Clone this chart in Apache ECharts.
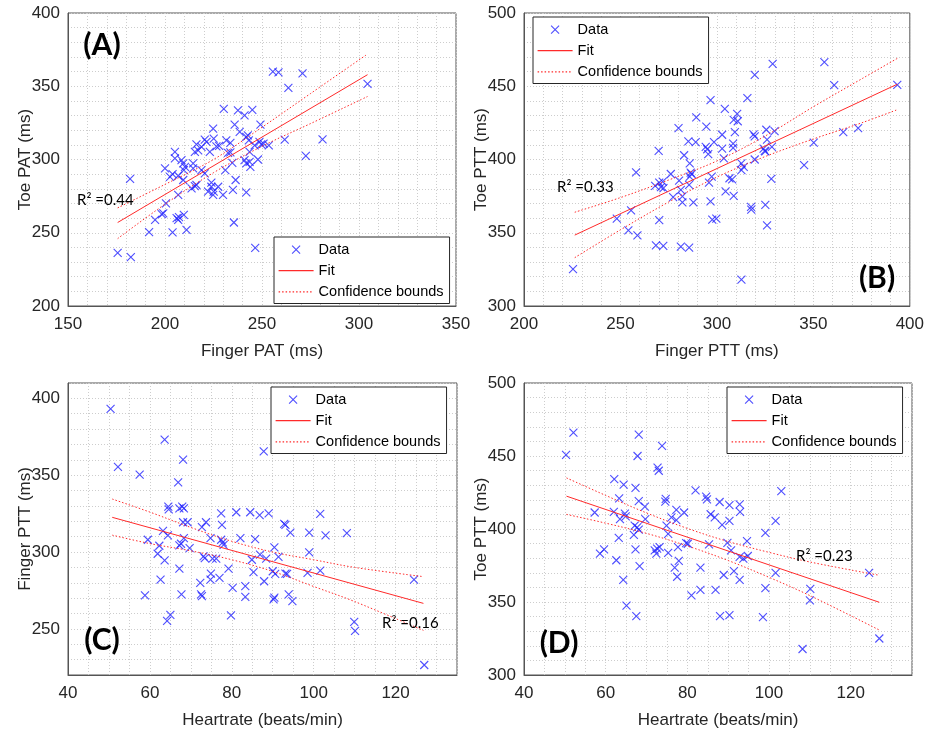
<!DOCTYPE html>
<html>
<head>
<meta charset="utf-8">
<script src="https://cdn.jsdelivr.net/npm/echarts@6.0.0/dist/echarts.min.js"></script>
<style>
  html, body { margin: 0; padding: 0; background: #fff; }
  #chart { width: 927px; height: 730px; }
</style>
</head>
<body>
<div id="chart"></div>
<script>
// (A) Finger PAT vs Toe PAT
var dataA = [[175.6,236.2],[182.4,233.3],[182.0,286.7],[191.8,250.5],[199.1,263.3],[198.3,262.7],[200.5,270.1],[203.9,250.2],[194.9,258.8],[206.8,258.8],[206.0,260.0],[207.2,260.6],[209.7,262.2],[211.1,252.0],[206.8,275.8],[200.0,293.9],[202.6,288.2],[203.9,290.0],[205.1,300.7],[205.1,305.2],[206.8,288.9],[209.4,286.0],[209.7,292.8],[208.5,299.5],[209.4,297.3],[210.3,295.0],[213.7,280.3],[215.4,281.9],[216.2,282.6],[214.5,293.9],[214.5,297.3],[215.4,305.2],[216.2,310.4],[217.1,306.3],[218.8,292.8],[220.5,290.5],[218.8,308.6],[220.5,313.6],[221.4,312.0],[223.1,305.2],[224.8,321.0],[225.1,314.3],[226.5,309.0],[227.9,309.3],[222.2,278.0],[223.9,281.4],[225.1,278.0],[223.9,284.2],[227.4,281.4],[224.8,275.8],[229.9,275.8],[230.3,334.6],[231.1,292.8],[232.5,304.5],[233.7,304.8],[233.7,311.3],[234.7,297.7],[235.0,279.2],[235.9,323.8],[236.4,286.0],[237.6,333.5],[238.5,318.8],[241.0,330.1],[241.9,277.6],[242.7,316.5],[243.2,313.1],[243.6,298.4],[244.0,295.0],[243.6,305.2],[245.0,333.9],[246.2,309.7],[247.9,300.0],[248.7,312.0],[249.2,323.8],[249.6,310.4],[250.8,310.9],[253.5,309.7],[246.5,239.6],[235.5,257.0],[255.6,360.0],[258.5,359.5],[270.9,358.8],[263.6,348.9],[261.7,313.6],[272.6,302.5],[281.2,313.8],[304.4,351.6],[241.0,299.5],[241.9,297.3],[231.6,313.0],[241.9,315.4]];
var fitA = [[175.6,257.0],[304.4,357.9]];
var hiA = [[175.6,267],[200,283],[225,300],[250,322],[275,345],[304.4,372]];
var loA = [[175.6,246],[200,269.5],[225,291],[250,309],[275,324.5],[304.4,343]];

// (B) Finger PTT vs Toe PTT
var dataB = [[225.4,325.2],[248.1,359.7],[255.5,365.3],[254.1,351.6],[258.8,348.2],[258.1,391.2],[268.0,382.0],[269.8,405.9],[270.1,384.2],[271.0,381.1],[271.9,384.9],[272.3,380.4],[270.1,358.6],[268.4,341.4],[272.2,341.0],[276.1,390.1],[277.3,374.3],[280.4,385.6],[280.1,421.4],[281.3,379.3],[282.1,374.8],[282.1,370.7],[283.0,402.9],[281.3,340.5],[285.6,339.9],[285.2,412.4],[285.9,397.3],[285.9,388.3],[286.4,391.0],[286.9,390.1],[285.6,382.7],[287.8,370.7],[289.0,411.9],[289.3,428.8],[294.2,408.6],[294.5,422.5],[295.0,407.0],[295.5,403.6],[295.9,384.2],[296.7,440.5],[296.7,371.4],[297.3,388.3],[297.6,359.0],[299.7,359.7],[298.5,411.9],[302.7,416.9],[302.7,407.4],[303.6,400.7],[304.1,434.5],[304.5,378.2],[306.5,387.2],[307.9,386.5],[308.7,375.2],[308.4,410.8],[308.4,407.9],[309.3,418.7],[308.7,427.0],[310.5,431.1],[310.8,426.1],[312.7,397.3],[312.7,392.8],[313.9,395.0],[312.7,318.0],[315.8,441.9],[317.7,367.6],[317.8,365.8],[319.0,417.1],[319.6,415.8],[319.6,400.0],[319.6,457.7],[324.2,407.4],[325.1,369.1],[325.6,420.3],[326.0,413.5],[326.0,355.0],[324.8,405.9],[328.5,408.6],[328.2,386.7],[329.9,419.4],[328.9,465.3],[345.2,396.2],[350.2,411.5],[355.7,466.4],[360.8,450.7],[365.5,418.7],[373.2,421.4],[393.5,450.9],[325.1,405.6]];
var fitB = [[226.3,348.4],[393.5,451.4]];
var hiB = [[226.3,364],[250,374],[275,386],[300,399],[325,416],[350,436],[375,455],[393.5,469]];
var loB = [[226.3,333],[250,352],[275,371],[300,388],[325,402],[350,414],[375,425],[393.5,434]];

// (C) Heartrate vs Finger PTT
var dataC = [[50.4,393.1],[52.2,355.4],[57.5,350.4],[59.5,308.0],[58.8,271.8],[63.6,373.1],[62.3,304.1],[61.9,298.9],[63.6,294.6],[63.2,313.8],[64.4,310.8],[62.6,282.1],[64.5,329.5],[64.6,327.8],[64.2,255.2],[65.0,259.1],[66.9,345.3],[68.1,360.1],[67.2,328.4],[67.9,329.5],[68.3,328.4],[68.1,319.4],[69.2,319.4],[68.3,309.1],[67.2,304.3],[67.6,305.4],[69.7,302.6],[67.2,289.2],[67.7,272.4],[72.3,280.0],[72.5,272.4],[72.7,271.3],[72.7,316.2],[73.7,319.4],[73.1,297.2],[73.4,296.1],[74.8,309.1],[74.9,286.0],[74.8,282.1],[75.3,295.7],[76.2,295.7],[77.0,283.2],[77.4,325.2],[77.6,317.7],[77.4,308.0],[77.8,306.3],[78.0,304.7],[79.2,289.2],[80.2,276.7],[79.8,258.8],[81.1,325.9],[82.1,309.1],[83.3,277.8],[83.3,270.9],[84.5,325.9],[85.7,308.4],[84.9,295.0],[85.3,286.9],[86.8,324.1],[86.9,298.3],[87.8,365.5],[87.9,281.0],[88.4,295.7],[89.0,325.2],[90.0,287.5],[90.2,269.2],[90.4,303.0],[90.6,285.8],[91.4,296.8],[90.4,270.3],[92.8,318.3],[93.1,317.7],[93.1,286.0],[93.5,285.8],[94.3,312.7],[93.9,272.4],[94.8,268.1],[98.5,286.4],[98.9,312.7],[98.9,299.8],[101.6,324.8],[101.6,287.9],[102.9,310.8],[108.1,312.3],[109.9,254.5],[110.1,248.7],[124.5,282.1],[127.0,226.5]];
var fitC = [[50.8,322.6],[126.8,266.6]];
var hiC = [[50.8,334.5],[60,326],[70,316],[80,307],[90,300],[100,295],[110,290],[126.8,284]];
var loC = [[50.8,311],[60,305.5],[70,300.8],[80,295],[90,287.4],[100,277.6],[110,267.8],[126.8,249]];

// (D) Heartrate vs Toe PTT
var dataD = [[50.3,450.7],[52.1,466.0],[57.3,411.3],[58.6,383.1],[59.6,386.0],[62.1,434.2],[62.0,411.7],[63.3,420.9],[63.5,406.8],[64.4,430.4],[64.7,410.6],[64.9,408.6],[62.6,378.6],[63.2,393.9],[64.3,365.1],[65.1,347.5],[67.3,428.2],[68.1,464.6],[67.8,450.0],[68.1,419.1],[69.6,415.3],[69.7,406.8],[67.1,402.3],[67.7,401.1],[68.1,399.5],[66.9,395.9],[67.3,386.0],[68.3,374.5],[67.5,340.3],[72.7,442.1],[73.0,439.9],[73.8,457.0],[74.7,420.7],[74.6,418.7],[74.9,402.3],[75.3,396.6],[72.0,385.4],[72.4,383.1],[72.6,386.5],[73.2,387.6],[75.3,383.6],[76.1,407.9],[77.3,413.1],[77.3,406.1],[77.7,387.6],[77.9,378.2],[76.9,373.6],[77.5,367.3],[79.2,411.3],[79.7,390.3],[80.1,389.9],[82.0,426.4],[81.0,354.5],[83.2,373.6],[83.2,358.3],[84.6,422.1],[84.8,420.3],[85.3,389.4],[85.7,410.1],[86.7,407.9],[86.9,358.3],[87.9,418.5],[88.5,402.9],[88.9,368.5],[88.0,340.3],[89.8,390.5],[90.3,416.4],[90.3,405.6],[90.7,385.4],[91.4,371.2],[90.3,341.0],[92.8,416.9],[92.9,411.7],[92.8,380.9],[93.7,379.7],[94.6,391.7],[94.8,381.5],[92.8,365.1],[99.1,397.3],[99.1,359.5],[98.5,339.6],[101.6,405.6],[101.6,370.0],[103.0,425.9],[108.2,317.8],[110.1,359.0],[110.0,351.1],[124.5,370.0],[127.0,325.0]];
var fitD = [[50.4,422.5],[127,349.8]];
var hiD = [[50.4,435],[60,423],[70,411],[80,400.4],[90,391.4],[100,384],[110,377.4],[127,368.3]];
var loD = [[50.4,410],[60,404],[70,397],[80,388.4],[90,378.4],[100,366.9],[110,354.4],[127,330.8]];

var panelLabels = ['(A)', '(B)', '(C)', '(D)'];
var r2Labels = ['R\u00B2 =0.44', 'R\u00B2 =0.33', 'R\u00B2 =0.16', 'R\u00B2 =0.23'];
var xNames = ['Finger PAT (ms)', 'Finger PTT (ms)', 'Heartrate (beats/min)', 'Heartrate (beats/min)'];
var yNames = ['Toe PAT (ms)', 'Toe PTT (ms)', 'Finger PTT (ms)', 'Toe PTT (ms)'];
var xRanges = [[150, 350, 10, 50], [200, 400, 10, 50], [40, 135, 5, 20], [40, 135, 5, 20]];
var yRanges = [[200, 400, 10, 50], [300, 500, 10, 50], [220, 410, 10, 50], [300, 500, 10, 50]];

(function () {
    var blue = '#2222ff';
    var red = '#ff2a2a';
    var txt = '#262626';
    var font = 'Liberation Sans, Arial, sans-serif';
    var cross = 'path://M0,0L10,10M10,0L0,10';
    // padded icons so the legend keeps the right proportions
    var legendCross = 'path://M0,0M3,3L11,11M11,3L3,11M14,14';
    var legendLine = 'path://M0,0M0,7L35,7M35,14';

    var grids = [
        { left: 68, top: 13, width: 388, height: 293 },
        { left: 524, top: 13, width: 388, height: 293 },
        { left: 68, top: 383, width: 389, height: 293 },
        { left: 524, top: 383, width: 388, height: 293 }
    ];
    var legendPos = [[274, 237], [533, 17], [271, 387], [727, 387]];
    var panelPos = [[102, 45], [877, 278], [102, 640], [559, 643]];
    var r2Pos = [[77, 200], [557, 187], [382, 623], [796, 556]];

    var sets = [
        [dataA, fitA, hiA, loA],
        [dataB, fitB, hiB, loB],
        [dataC, fitC, hiC, loC],
        [dataD, fitD, hiD, loD]
    ];

    function makeAxis(range, idx, name, isY) {
        var major = range[3];
        return {
            type: 'value',
            gridIndex: idx,
            min: range[0],
            max: range[1],
            interval: range[2],
            name: name,
            nameLocation: 'middle',
            nameGap: isY ? 34 : 37,
            nameMoveOverlap: false,
            nameTextStyle: { fontSize: 17, color: txt, fontFamily: font },
            axisLine: { show: true, onZero: false, lineStyle: { color: '#555', width: 1 } },
            axisTick: { show: false },
            axisLabel: {
                fontSize: 17,
                color: txt,
                fontFamily: font,
                margin: isY ? 8 : 10,
                formatter: function (v) {
                    return Math.round(v) % major === 0 ? String(Math.round(v)) : '';
                }
            },
            splitLine: { show: true, lineStyle: { color: '#cdcdcd', type: [1, 2], width: 1 } }
        };
    }

    var xAxes = [], yAxes = [], series = [], legends = [], graphics = [];
    grids.forEach(function (g, i) {
        g.show = true;
        g.borderColor = '#555';
        g.borderWidth = 1;
        g.backgroundColor = '#fff';
        xAxes.push(makeAxis(xRanges[i], i, xNames[i], false));
        yAxes.push(makeAxis(yRanges[i], i, yNames[i], true));

        series.push({
            name: 'Data', type: 'scatter', xAxisIndex: i, yAxisIndex: i,
            symbol: cross, symbolSize: 8,
            itemStyle: { color: 'transparent', borderColor: blue, borderWidth: 1.1 },
            emphasis: { disabled: true },
            data: sets[i][0], z: 3
        });
        series.push({
            name: 'Fit', type: 'line', xAxisIndex: i, yAxisIndex: i,
            symbol: 'none', lineStyle: { color: red, width: 1 },
            itemStyle: { color: red },
            data: sets[i][1], z: 4
        });
        [2, 3].forEach(function (k) {
            series.push({
                name: 'Confidence bounds', type: 'line', xAxisIndex: i, yAxisIndex: i,
                symbol: 'none', smooth: 0.35,
                lineStyle: { color: red, width: 1, type: [1.5, 2] },
                itemStyle: { color: red },
                data: sets[i][k], z: 4
            });
        });

        legends.push({
            orient: 'vertical',
            left: legendPos[i][0],
            top: legendPos[i][1],
            backgroundColor: '#fff',
            borderColor: '#262626',
            borderWidth: 1,
            borderRadius: 0,
            padding: [5, 6, 4, 4],
            itemGap: 6,
            itemWidth: 35,
            itemHeight: 14,
            selectedMode: false,
            textStyle: { fontSize: 14.5, color: '#000', fontFamily: font },
            data: [
                { name: 'Data', icon: legendCross,
                  itemStyle: { color: 'transparent', borderColor: blue, borderWidth: 1.1 } },
                { name: 'Fit', icon: legendLine,
                  itemStyle: { color: 'transparent', borderColor: red, borderWidth: 1.2 } },
                { name: 'Confidence bounds', icon: legendLine,
                  itemStyle: { color: 'transparent', borderColor: red, borderWidth: 1.2, borderType: [1.5, 2] } }
            ]
        });

        graphics.push({
            type: 'text', x: panelPos[i][0], y: panelPos[i][1], z: 100,
            style: {
                text: panelLabels[i], fill: '#000',
                font: 'bold 30px Lato, "Open Sans", sans-serif',
                textAlign: 'center', textVerticalAlign: 'middle',
                align: 'center', verticalAlign: 'middle'
            }
        });
        graphics.push({
            type: 'text', x: r2Pos[i][0], y: r2Pos[i][1], z: 100,
            style: {
                text: r2Labels[i], fill: '#000',
                font: '15px Lato, "Open Sans", sans-serif',
                textAlign: 'left', textVerticalAlign: 'middle',
                align: 'left', verticalAlign: 'middle'
            }
        });
    });

    var myChart = echarts.init(document.getElementById('chart'), null, { renderer: 'canvas' });
    var option = {
        animation: false,
        backgroundColor: '#fff',
        grid: grids,
        xAxis: xAxes,
        yAxis: yAxes,
        legend: legends,
        graphic: graphics,
        series: series
    };
    myChart.setOption(option);
})();
</script>
</body>
</html>
